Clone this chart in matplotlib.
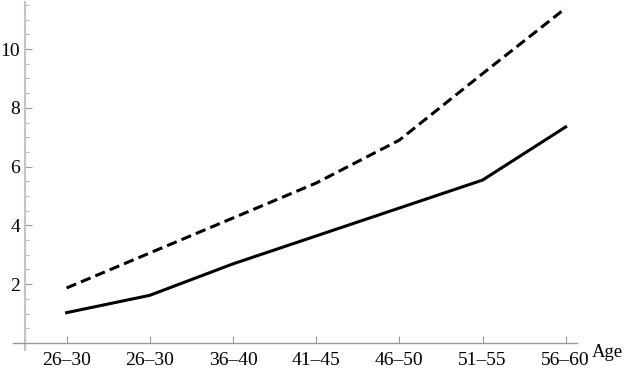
import matplotlib
matplotlib.use('Agg')
import matplotlib.pyplot as plt
from matplotlib.ticker import MultipleLocator

# Data
age_groups = ['26–30', '26–30', '36–40', '41–45', '46–50', '51–55', '56–60']
solid_vals = [1.03, 1.62, 2.69, 3.64, 4.59, 5.54, 7.35]
dashed_vals = [1.87, 3.06, 4.25, 5.44, 6.90, 9.16, 11.39]

plt.rcParams['font.family'] = ['Liberation Serif', 'DejaVu Serif']

fig = plt.figure(figsize=(6.25, 3.71), dpi=100)
ax = fig.add_axes([13 / 625, 21 / 371, 564 / 625, 348 / 371])

xpos = list(range(1, len(age_groups) + 1))
ax.plot(xpos, solid_vals, color='black', lw=2.2, solid_joinstyle='miter',
        clip_on=False)
ax.plot(xpos, dashed_vals, color='black', lw=2.2,
        linestyle=(0, (3.4, 1.7)), clip_on=False)

ax.set_xlim(0.356, 7.136)
ax.set_ylim(-0.24, 11.6)

# axes crossing inside the plot area
for s in ['top', 'right']:
    ax.spines[s].set_visible(False)
ax.spines['left'].set_position(('data', 0.5))
ax.spines['bottom'].set_position(('data', 0))
ax.spines['left'].set_color('#c4c4c4')
ax.spines['left'].set_linewidth(1.5)
ax.spines['bottom'].set_color('#999999')
ax.spines['bottom'].set_linewidth(1.0)

ax.set_xticks(xpos)
ax.set_xticklabels(age_groups)
ax.set_yticks([2, 4, 6, 8, 10])
ax.yaxis.set_minor_locator(MultipleLocator(0.5))

ax.tick_params(axis='x', direction='in', length=5, width=0.8, color='#999999',
               labelsize=14, pad=6.5)
ax.tick_params(axis='y', which='major', direction='in', length=5, width=0.8,
               color='#999999', labelsize=14, pad=3.5)
ax.tick_params(axis='y', which='minor', direction='in', length=3, width=0.6,
               color='#aaaaaa')

ax.text(7.31, -0.48, 'Age', fontsize=13.5, ha='left', va='baseline',
        clip_on=False)

fig.savefig('out.png', dpi=100)
